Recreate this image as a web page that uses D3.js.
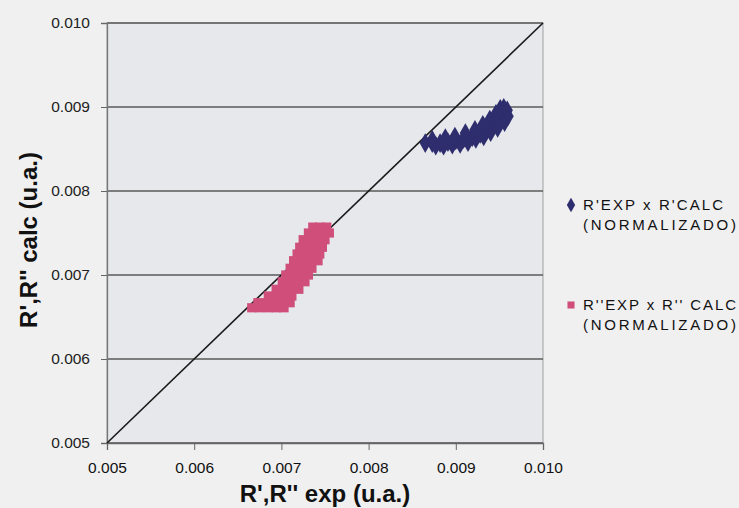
<!DOCTYPE html>
<html>
<head>
<meta charset="utf-8">
<script src="https://cdn.jsdelivr.net/npm/d3@7"></script>
<style>
  body { margin: 0; background: #f0f0f0; }
  text { font-family: Arial, "Liberation Sans", sans-serif; }
</style>
</head>
<body>
<div id="chart"></div>
<script>
// width and height of the whole picture
var width = 739
var height = 508

// tick values for both axes
var xTicks = [0.005, 0.006, 0.007, 0.008, 0.009, 0.010]
var yTicks = [0.005, 0.006, 0.007, 0.008, 0.009, 0.010]

// R'EXP x R'CALC (normalizado) - [exp, calc]
var seriesR1 = [
  [0.00865, 0.00857], [0.00873, 0.00857], [0.00882, 0.00857], [0.00891, 0.00858],
  [0.00900, 0.00860], [0.00909, 0.00862], [0.00919, 0.00864], [0.00928, 0.00868],
  [0.00936, 0.00873], [0.00944, 0.00879], [0.00951, 0.00886], [0.00956, 0.00893],
  [0.00955, 0.00899],
  [0.00877, 0.00854], [0.00886, 0.00854], [0.00896, 0.00855], [0.00905, 0.00856],
  [0.00914, 0.00858], [0.00923, 0.00862], [0.00932, 0.00865], [0.00940, 0.00870],
  [0.00948, 0.00875], [0.00956, 0.00882], [0.00960, 0.00889],
  [0.00873, 0.00861], [0.00888, 0.00863], [0.00899, 0.00865], [0.00911, 0.00869],
  [0.00922, 0.00873], [0.00931, 0.00879], [0.00939, 0.00885], [0.00946, 0.00892],
  [0.00951, 0.00898], [0.00959, 0.00896]
]

// R''EXP x R''CALC (normalizado) - [exp, calc]
var seriesR2 = [
  [0.00666, 0.00661], [0.00675, 0.00661], [0.00685, 0.00661], [0.00694, 0.00661], [0.00703, 0.00661],
  [0.00673, 0.00667], [0.00682, 0.00667], [0.00692, 0.00667], [0.00701, 0.00667], [0.00710, 0.00667],
  [0.00685, 0.00675], [0.00694, 0.00675], [0.00703, 0.00675], [0.00712, 0.00675],
  [0.00694, 0.00683], [0.00703, 0.00683], [0.00712, 0.00683], [0.00720, 0.00683],
  [0.00701, 0.00692], [0.00710, 0.00692], [0.00719, 0.00692], [0.00727, 0.00692],
  [0.00705, 0.00700], [0.00714, 0.00700], [0.00724, 0.00700], [0.00731, 0.00700],
  [0.00710, 0.00708], [0.00719, 0.00708], [0.00728, 0.00708], [0.00735, 0.00708],
  [0.00714, 0.00717], [0.00724, 0.00717], [0.00733, 0.00717], [0.00742, 0.00717],
  [0.00718, 0.00725], [0.00727, 0.00725], [0.00736, 0.00725], [0.00744, 0.00725],
  [0.00721, 0.00733], [0.00731, 0.00733], [0.00740, 0.00733], [0.00747, 0.00733],
  [0.00725, 0.00742], [0.00734, 0.00742], [0.00743, 0.00742], [0.00750, 0.00742],
  [0.00731, 0.00750], [0.00740, 0.00750], [0.00749, 0.00750], [0.00755, 0.00750],
  [0.00736, 0.00757], [0.00744, 0.00757], [0.00752, 0.00757]
]

var legendLabels = [
  ["R'EXP x R'CALC", "(NORMALIZADO)"],
  ["R''EXP x R'' CALC", "(NORMALIZADO)"]
]

var margin = {top: 23, right: 196, bottom: 65, left: 107}
var plotW = width - margin.left - margin.right
var plotH = height - margin.top - margin.bottom

var blue = "#2e2d6d"
var pink = "#cf4f7a"

var svg = d3.select("#chart")
  .append("svg")
  .attr("width", width)
  .attr("height", height)

svg.append("rect")
  .attr("width", width)
  .attr("height", height)
  .attr("fill", "#f0f0f0")

var g = svg.append("g")
  .attr("transform", "translate(" + margin.left + "," + margin.top + ")")

var x = d3.scaleLinear().domain([0.005, 0.010]).range([0, plotW])
var y = d3.scaleLinear().domain([0.005, 0.010]).range([plotH, 0])

// plot area
g.append("rect")
  .attr("width", plotW)
  .attr("height", plotH)
  .attr("fill", "#e6e8eb")
  .attr("stroke", "#a0a0a0")
  .attr("stroke-width", 1)

// horizontal grid lines
g.append("g")
  .selectAll("line")
  .data(yTicks)
  .join("line")
    .attr("x1", 0)
    .attr("x2", plotW)
    .attr("y1", d => y(d))
    .attr("y2", d => y(d))
    .attr("stroke", "#5a5a5a")
    .attr("stroke-width", 1.3)

// y axis
var yAxis = g.append("g")
  .call(d3.axisLeft(y).tickValues(yTicks).tickFormat(d3.format(".3f")).tickSize(6).tickPadding(11))
yAxis.select(".domain").attr("stroke", "#777").attr("stroke-width", 1.3)
yAxis.selectAll(".tick line").attr("stroke", "#666")
yAxis.selectAll("text")
  .attr("font-size", 15.5)
  .attr("fill", "#222")

// x axis
var xAxis = g.append("g")
  .attr("transform", "translate(0," + plotH + ")")
  .call(d3.axisBottom(x).tickValues(xTicks).tickFormat(d3.format(".3f")).tickSize(7).tickPadding(12))
xAxis.select(".domain").attr("stroke", "#666").attr("stroke-width", 1.3)
xAxis.selectAll(".tick line").attr("stroke", "#666")
xAxis.selectAll("text")
  .attr("font-size", 15.5)
  .attr("fill", "#111")

// diagonal y = x line
g.append("line")
  .attr("x1", x(0.005))
  .attr("y1", y(0.005))
  .attr("x2", x(0.010))
  .attr("y2", y(0.010))
  .attr("stroke", "#1a1a1a")
  .attr("stroke-width", 1.6)

var diamond = d3.symbol().type(d3.symbolDiamond).size(110)
var square = d3.symbol().type(d3.symbolSquare).size(85)

// R'' points (pink squares)
g.append("g")
  .selectAll("path")
  .data(seriesR2)
  .join("path")
    .attr("d", square)
    .attr("transform", d => "translate(" + x(d[0]) + "," + y(d[1]) + ")")
    .attr("fill", pink)

// R' points (blue diamonds)
g.append("g")
  .selectAll("path")
  .data(seriesR1)
  .join("path")
    .attr("d", diamond)
    .attr("transform", d => "translate(" + x(d[0]) + "," + y(d[1]) + ")")
    .attr("fill", blue)

// axis titles
svg.append("text")
  .attr("x", margin.left + plotW / 2)
  .attr("y", 502)
  .attr("text-anchor", "middle")
  .attr("font-size", 24)
  .attr("font-weight", "bold")
  .attr("fill", "#111")
  .text("R',R'' exp (u.a.)")

svg.append("text")
  .attr("transform", "translate(37,240) rotate(-90)")
  .attr("text-anchor", "middle")
  .attr("font-size", 24)
  .attr("font-weight", "bold")
  .attr("fill", "#111")
  .text("R',R'' calc (u.a.)")

// legend
var legend = svg.append("g")
var legendY = [210, 310]
var legendColors = [blue, pink]
var legendSymbols = [d3.symbol().type(d3.symbolDiamond).size(60), d3.symbol().type(d3.symbolSquare).size(50)]

legendLabels.forEach(function(lines, i) {
  legend.append("path")
    .attr("d", legendSymbols[i])
    .attr("transform", "translate(" + 571 + "," + (legendY[i] - 5) + ")")
    .attr("fill", legendColors[i])
  lines.forEach(function(line, j) {
    legend.append("text")
      .attr("x", 583)
      .attr("y", legendY[i] + j * 20)
      .attr("font-size", 15)
      .attr("fill", "#111")
      .attr("textLength", j == 0 ? (i == 0 ? 140 : 153) : 153)
      .text(line)
  })
})
</script>
</body>
</html>
